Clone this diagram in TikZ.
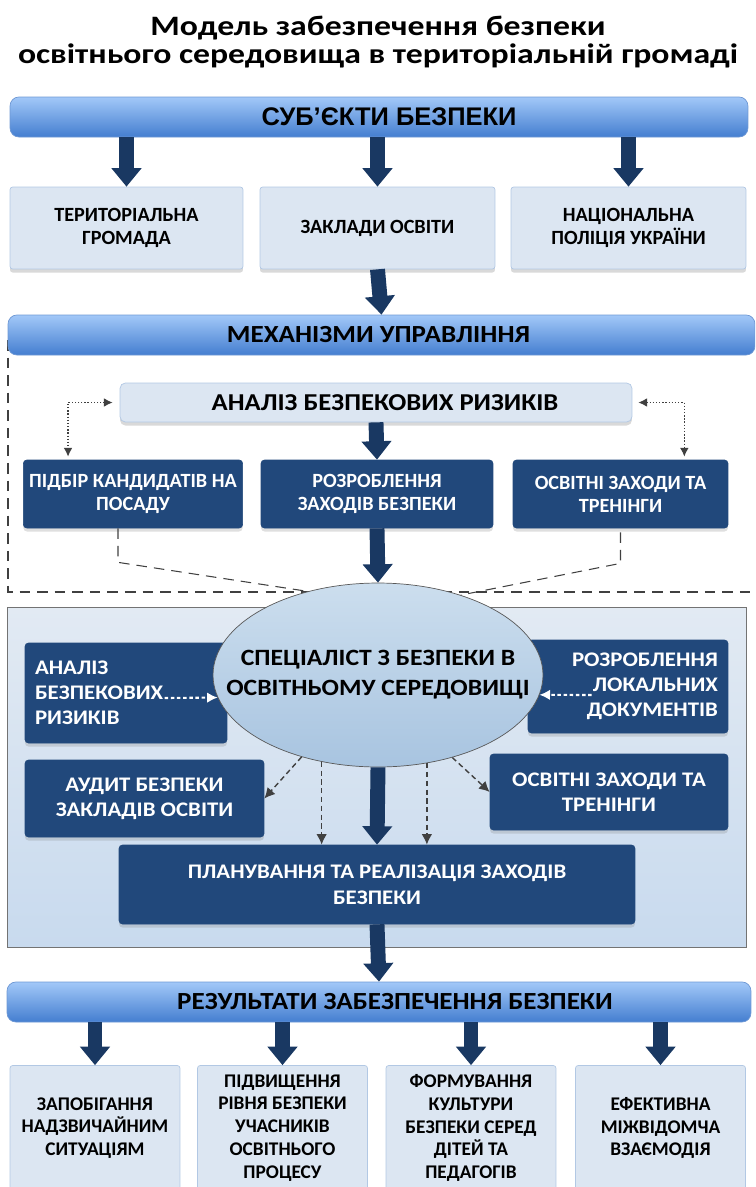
\documentclass[tikz,border=0pt]{standalone}
\usepackage{fontspec}
\setmainfont{Carlito}
\newfontfamily\titlefont[FakeStretch=1.2]{Carlito}
\newfontfamily\midfont[FakeStretch=1.1]{Carlito}
\newfontfamily\arialfont{Liberation Sans}
\usetikzlibrary{positioning,calc,arrows.meta,shapes.geometric,shadows}
\definecolor{bantop}{RGB}{162,200,248}
\definecolor{banbot}{RGB}{68,126,208}
\definecolor{banline}{RGB}{110,152,212}
\definecolor{lightfill}{RGB}{220,230,242}
\definecolor{lightline}{RGB}{178,200,228}
\definecolor{darkfill}{RGB}{33,72,123}
\definecolor{arrowfill}{RGB}{25,56,98}
\definecolor{paneltop}{RGB}{226,234,243}
\definecolor{panelbot}{RGB}{200,218,238}
\definecolor{elltop}{RGB}{204,222,238}
\definecolor{ellbot}{RGB}{168,196,224}
\tikzset{
banner/.style={
  rectangle,
  rounded corners=5pt,
  top color=bantop,
  bottom color=banbot,
  draw=banline,
  minimum height=0.8cm,
  font=\midfont\fontsize{14}{16}\selectfont\bfseries
  },
lbox/.style={
  rectangle,
  rounded corners=1.5pt,
  fill=lightfill,
  draw=lightline,
  align=center,
  drop shadow={shadow xshift=0pt,shadow yshift=-2pt,opacity=0.3},
  font=\fontsize{11.5}{12.7}\selectfont\bfseries
  },
dbox/.style={
  rectangle,
  rounded corners=2pt,
  fill=darkfill,
  draw=darkfill,
  text=white,
  align=center,
  drop shadow={shadow xshift=0pt,shadow yshift=-2pt,opacity=0.25},
  font=\fontsize{11.5}{13}\selectfont\bfseries
  },
pbox/.style={
  dbox,
  font=\midfont\fontsize{11.8}{14.2}\selectfont\bfseries
  },
bigarrow/.style={
  draw=arrowfill,
  line width=8.5pt,
  -{Triangle[length=10.5pt,width=16.5pt]}
  }
}

\begin{document}
\begin{tikzpicture}[
    x=0.02cm, y=-0.02cm,
    dline/.style={
      draw=black!75,
      dash pattern=on 6pt off 4pt,
      line width=0.6pt
      },
    dotarrow/.style={
      draw=black!75,
      densely dotted,
      line width=0.8pt,
      {Latex[length=5pt,width=5pt]}-{Latex[length=5pt,width=5pt]}
      },
    wdots/.style={
      draw=white,
      dash pattern=on 2pt off 1.5pt,
      line width=1.2pt,
      -{Latex[length=6pt,width=6pt]}
      },
    darrow/.style={
      draw=black!75,
      dash pattern=on 3pt off 2pt,
      line width=0.8pt,
      -{Latex[length=6pt,width=6pt]}
      },
    >=latex
    ]
\useasboundingbox (0,0) rectangle (755,1187);
\clip (0,0) rectangle (755,1187);

\node[font=\titlefont\fontsize{16}{16}\selectfont\bfseries, align=center] (title) at (378,42)
  {Модель забезпечення безпеки\\освітнього середовища в територіальній громаді};

% subjects
\node[banner, minimum width=14.76cm, font=\arialfont\fontsize{14.5}{16}\selectfont\bfseries] (subj) at (379,117)
  {\hspace*{0.4cm}СУБ’ЄКТИ БЕЗПЕКИ};
\node[lbox, minimum width=4.66cm, minimum height=1.64cm] (ter) at (126.5,228) {ТЕРИТОРІАЛЬНА\\ГРОМАДА};
\node[lbox, minimum width=4.7cm, minimum height=1.64cm] (zakl) at (377.5,228) {ЗАКЛАДИ ОСВІТИ};
\node[lbox, minimum width=4.7cm, minimum height=1.64cm] (pol) at (628.5,228) {НАЦІОНАЛЬНА\\ПОЛІЦІЯ УКРАЇНИ};
\foreach \b in {ter,zakl,pol}
  \draw[bigarrow] (subj.south -| \b.north) -- (\b.north);

% mechanisms
\draw[dline] (8,340) -- (8,592) -- (755,592);
\node[banner, minimum width=14.94cm] (mech) at (381.5,335) {МЕХАНІЗМИ УПРАВЛІННЯ\hspace*{0.12cm}};
\draw[bigarrow] (zakl.south) -- (mech.north);
\node[lbox, minimum width=10.24cm, minimum height=0.78cm, rounded corners=3pt,
  font=\midfont\fontsize{13.8}{16}\selectfont\bfseries] (anal) at (376,402.5) {\hspace*{0.36cm}АНАЛІЗ БЕЗПЕКОВИХ РИЗИКІВ};
\node[dbox, minimum width=4.32cm, minimum height=1.36cm] (pidb) at (133,494) {ПІДБІР КАНДИДАТІВ НА\\ПОСАДУ};
\node[dbox, minimum width=4.64cm, minimum height=1.36cm] (rozr) at (377,494) {РОЗРОБЛЕННЯ\\ЗАХОДІВ БЕЗПЕКИ};
\node[dbox, minimum width=4.3cm, minimum height=1.36cm] (osv1) at (620.5,494) {ОСВІТНІ ЗАХОДИ ТА\\ТРЕНІНГИ};
\draw[bigarrow] (anal.south) -- (rozr.north);
\draw[dotarrow] ($(anal.west)+(-7,0)$) -| ($(pidb.north west)+(45,-3)$);
\draw[dotarrow] ($(anal.east)+(6,0)$) -| ($(osv1.north east)+(-44,-3)$);

% specialist
\node[draw=black!55, top color=paneltop, bottom color=panelbot,
  minimum width=14.78cm, minimum height=6.8cm] (panel) at (376.5,777) {};
\node[pbox, minimum width=4.04cm, minimum height=2cm, text width=3.64cm, inner xsep=0.2cm,
  align=left] (anal2) at (126,693) {АНАЛІЗ\\БЕЗПЕКОВИХ\\РИЗИКІВ};
\node[pbox, minimum width=4cm, minimum height=1.86cm, text width=3.6cm, inner xsep=0.2cm,
  align=right] (docs) at (628,686.5) {РОЗРОБЛЕННЯ\\ЛОКАЛЬНИХ\\ДОКУМЕНТІВ};
\node[pbox, minimum width=4.78cm, minimum height=1.54cm] (audit) at (144.5,798.5) {АУДИТ БЕЗПЕКИ\\ЗАКЛАДІВ ОСВІТИ};
\node[pbox, minimum width=4.76cm, minimum height=1.52cm] (osv2) at (609,792) {ОСВІТНІ ЗАХОДИ ТА\\ТРЕНІНГИ};
\node[pbox, minimum width=10.32cm, minimum height=1.58cm,
  font=\midfont\fontsize{11.8}{15}\selectfont\bfseries] (plan) at (377,884.5) {ПЛАНУВАННЯ ТА РЕАЛІЗАЦІЯ ЗАХОДІВ\\БЕЗПЕКИ};
\node[ellipse, draw=black!65, top color=elltop, bottom color=ellbot, inner xsep=-1cm, inner ysep=0pt,
  minimum width=6.6cm, minimum height=3.68cm, align=center,
  font=\midfont\fontsize{13.3}{17}\selectfont\bfseries] (spec) at (378,675) {СПЕЦІАЛІСТ З БЕЗПЕКИ В\\ОСВІТНЬОМУ СЕРЕДОВИЩІ};
\draw[bigarrow] (rozr.south) -- (spec.north);
\draw[dline] ($(pidb.south)+(-15,0)$) -- ++(0,34) -- (spec.130);
\draw[dline] ($(osv1.south)+(0,4)$) -- ++(0,31) -- (spec.44);
\draw[wdots] ($(anal2.west)+(140,5)$) -- (spec.188);
\draw[wdots] ($(docs.west)+(64,8.5)$) -- (spec.353);
\draw[darrow] (spec.227) -- (audit.east);
\draw[darrow] (spec.237) -- (spec.237 |- plan.north);
\draw[darrow] (spec.299) -- (spec.299 |- plan.north);
\draw[darrow] (spec.312) -- (osv2.west);
\draw[bigarrow] (spec.south) -- (plan.north);

% results
\node[banner, minimum width=14.88cm] (res) at (379,1002) {\hspace*{0.64cm}РЕЗУЛЬТАТИ ЗАБЕЗПЕЧЕННЯ БЕЗПЕКИ};
\draw[bigarrow] (plan.south) -- (res.north);
\foreach \x/\t [count=\i] in {95/{ЗАПОБІГАННЯ\\НАДЗВИЧАЙНИМ\\СИТУАЦІЯМ},
    282.5/{ПІДВИЩЕННЯ\\РІВНЯ БЕЗПЕКИ\\УЧАСНИКІВ\\ОСВІТНЬОГО\\ПРОЦЕСУ},
    471/{ФОРМУВАННЯ\\КУЛЬТУРИ\\БЕЗПЕКИ СЕРЕД\\ДІТЕЙ ТА\\ПЕДАГОГІВ},
    660.5/{ЕФЕКТИВНА\\МІЖВІДОМЧА\\ВЗАЄМОДІЯ}}
{
  \node[lbox, minimum width=3.4cm, minimum height=2.5cm,
    font=\fontsize{11}{13}\selectfont\bfseries] (r\i) at (\x,1128) {\t};
  \draw[bigarrow] (res.south -| r\i.north) -- (r\i.north);
}
\end{tikzpicture}
\end{document}
